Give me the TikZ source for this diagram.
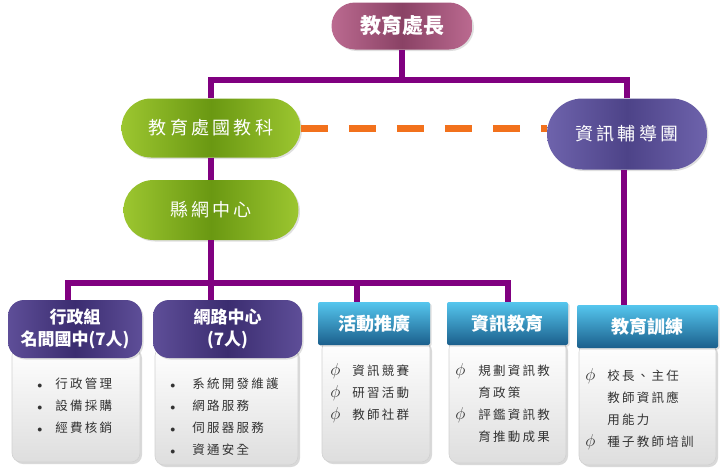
\documentclass[tikz,border=0pt]{standalone}
\usepackage{fontspec}
\usepackage{amsmath}
\usetikzlibrary{shapes.misc,shadows}
\newfontfamily\zh{Noto Sans CJK TC}
\newfontfamily\zhwide[LetterSpace=18]{Noto Sans CJK TC}
\definecolor{linkpurple}{HTML}{800080}
\definecolor{dashorange}{HTML}{F2711C}
\definecolor{bodytext}{HTML}{333333}
\newcommand{\itemrow}[2]{#1 & #2\\}
\newcommand{\dotmark}{{\fontsize{10}{22}\selectfont$\bullet$}}
\newcommand{\phimark}{{\fontsize{16}{22}\selectfont$\phi$}}

\begin{document}
\begin{tikzpicture}[x=1pt,y=-1pt,semithick]
  \tikzstyle{conn}=[draw=linkpurple,line width=6pt]
  \tikzstyle{pill}=[rounded rectangle,text=white,inner sep=0pt,
                    drop shadow={opacity=0.25,shadow xshift=1.5pt,shadow yshift=-1.5pt}]
  \tikzstyle{headpill}=[pill,font=\zh\bfseries\fontsize{21}{24}\selectfont,
                        left color=BB6A90,right color=BB6A90,middle color=8A4265]
  \tikzstyle{greenpill}=[pill,font=\zhwide\fontsize{18}{22}\selectfont,
                         left color=9CC630,right color=9CC630,middle color=6A9812]
  \tikzstyle{bluepill}=[pill,font=\zhwide\fontsize{18}{22}\selectfont,
                        left color=6E63AC,right color=6E63AC,middle color=4D4388]
  \tikzstyle{darkhead}=[rounded corners=16pt,text=white,align=center,inner sep=0pt,
                        font=\zh\bfseries\fontsize{17}{22}\selectfont,
                        left color=5E4E98,right color=5E4E98,middle color=3B2D70,
                        drop shadow={opacity=0.25,shadow xshift=1.5pt,shadow yshift=-1.5pt}]
  \tikzstyle{cyanhead}=[rounded corners=2pt,text=white,inner sep=0pt,
                        font=\zh\bfseries\fontsize{18}{22}\selectfont,
                        top color=55C6EE,middle color=2EA2D6,bottom color=1B5F8C,
                        drop shadow={opacity=0.25,shadow xshift=1.5pt,shadow yshift=-1.5pt}]
  \tikzstyle{bodybox}=[rounded corners=9pt,draw=black!18,top color=white,bottom color=black!13,
                       drop shadow={opacity=0.3,shadow xshift=2pt,shadow yshift=-2pt}]
  \tikzstyle{itemlist}=[anchor=base west,inner sep=0pt,text=bodytext,
                        font=\zhwide\fontsize{12.5}{22}\selectfont]

  \definecolor{BB6A90}{HTML}{BB6A90}\definecolor{8A4265}{HTML}{8A4265}
  \definecolor{9CC630}{HTML}{9CC630}\definecolor{6A9812}{HTML}{6A9812}
  \definecolor{6E63AC}{HTML}{6E63AC}\definecolor{4D4388}{HTML}{4D4388}
  \definecolor{5E4E98}{HTML}{5E4E98}\definecolor{3B2D70}{HTML}{3B2D70}
  \definecolor{55C6EE}{HTML}{55C6EE}\definecolor{2EA2D6}{HTML}{2EA2D6}
  \definecolor{1B5F8C}{HTML}{1B5F8C}

  \useasboundingbox (0,0) rectangle (725,471);

  % upper levels
  \node[headpill,minimum width=141pt,minimum height=47pt] (chief) at (402,26) {教育處長};
  \node[greenpill,minimum width=179pt,minimum height=59pt] (bureau) at (211,128) {教育處國教科};
  \node[greenpill,minimum width=175pt,minimum height=60pt] (netctr) at (211,210) {縣網中心};
  \node[bluepill,minimum width=160pt,minimum height=71pt] (advisor) at (627,134) {資訊輔導團};

  % bottom bodies
  \node[bodybox,minimum width=128pt,minimum height=115pt] (body1) at (76,404.5) {};
  \node[bodybox,minimum width=143pt,minimum height=118pt] (body2) at (226.5,406) {};
  \node[bodybox,minimum width=108pt,minimum height=122pt] (body3) at (376,401) {};
  \node[bodybox,minimum width=117pt,minimum height=123pt] (body4) at (507.5,401.5) {};
  \node[bodybox,minimum width=137pt,minimum height=122pt] (body5) at (647.5,404) {};

  % bottom headers
  \node[darkhead,minimum width=134pt,minimum height=58pt] (admin) at (75,329) {行政組\\名間國中(7人)};
  \node[darkhead,minimum width=149pt,minimum height=58pt] (network) at (227.5,329) {網路中心\\(7人)};
  \node[cyanhead,minimum width=112pt,minimum height=43pt] (promo) at (374,323.5) {活動推廣};
  \node[cyanhead,minimum width=121pt,minimum height=43pt] (infoedu) at (507.5,323.5) {資訊教育};
  \node[cyanhead,minimum width=141pt,minimum height=43pt] (training) at (647.5,326.5) {教育訓練};

  % item lists
  \node[itemlist] (list1) at (37,388) {\begin{tabular}[t]{@{}p{18pt}@{}l@{}}
    \itemrow{\dotmark}{行政管理}\itemrow{\dotmark}{設備採購}\itemrow{\dotmark}{經費核銷}\end{tabular}};
  \node[itemlist] (list2) at (170,388) {\begin{tabular}[t]{@{}p{22pt}@{}l@{}}
    \itemrow{\dotmark}{系統開發維護}\itemrow{\dotmark}{網路服務}\itemrow{\dotmark}{伺服器服務}\itemrow{\dotmark}{資通安全}\end{tabular}};
  \node[itemlist] (list3) at (330,375) {\begin{tabular}[t]{@{}p{22pt}@{}l@{}}
    \itemrow{\phimark}{資訊競賽}\itemrow{\phimark}{研習活動}\itemrow{\phimark}{教師社群}\end{tabular}};
  \node[itemlist] (list4) at (455,375) {\begin{tabular}[t]{@{}p{23pt}@{}l@{}}
    \itemrow{\phimark}{規劃資訊教}\itemrow{}{育政策}\itemrow{\phimark}{評鑑資訊教}\itemrow{}{育推動成果}\end{tabular}};
  \node[itemlist] (list5) at (585,380) {\begin{tabular}[t]{@{}p{22pt}@{}l@{}}
    \itemrow{\phimark}{校長、主任}\itemrow{}{教師資訊應}\itemrow{}{用能力}\itemrow{\phimark}{種子教師培訓}\end{tabular}};

  % connectors
  \coordinate (topbar) at (402,80);
  \coordinate (lowbar) at (211,283);
  \draw[conn] (chief.south) -- (topbar);
  \draw[conn] (bureau.north) |- (topbar) -| (advisor.north);
  \draw[conn] (bureau.south) -- (netctr.north);
  \draw[conn] (netctr.south) -- (lowbar);
  \draw[conn] (admin.north -| 68,0) |- (lowbar) -| (infoedu.north);
  \draw[conn] (lowbar) -- (network.north -| lowbar);
  \draw[conn] (lowbar -| 357,0) -- (promo.north -| 357,0);
  \draw[conn] (advisor.south -| 624,0) -- (training.north -| 624,0);
  \draw[dashorange,line width=7pt,dash pattern=on 27pt off 21pt] (bureau.east) -- (bureau.east -| advisor.west);
\end{tikzpicture}
\end{document}
